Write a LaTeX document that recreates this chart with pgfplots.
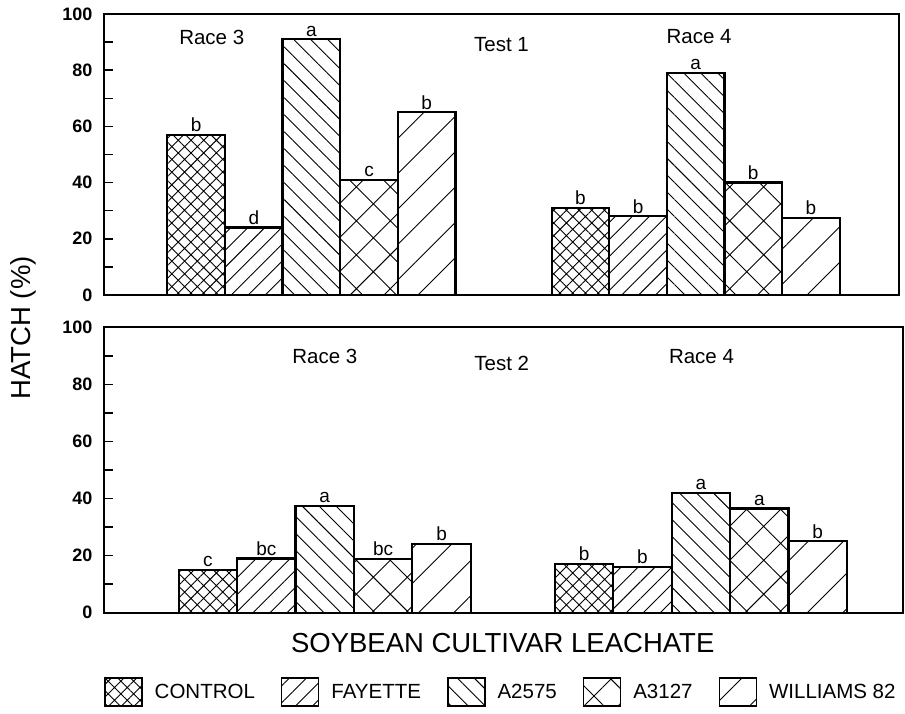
\documentclass[border=0pt]{standalone}
\usepackage{fontspec}
\setmainfont{Liberation Sans}
\usepackage{pgfplots}
\usepackage{pgfplotstable}
\pgfplotsset{compat=1.18}
\usetikzlibrary{patterns.meta}

\tikzset{
 pC/.style={pattern={Hatch[angle=45,distance=9pt,line width=0.9pt]}},
 pF/.style={pattern={Lines[angle=45,distance=12pt,line width=0.9pt]}},
 pA/.style={pattern={Lines[angle=-45,distance=12pt,line width=0.9pt]}},
 pB/.style={pattern={Hatch[angle=45,distance=24pt,line width=0.9pt]}},
 pW/.style={pattern={Lines[angle=45,distance=25pt,line width=0.9pt]}},
}

% Test 1
\pgfplotstableread{
x y lab
1.6 57 b
8.27 31 b
}\tAC
\pgfplotstableread{
x y lab
2.6 24 d
9.27 28 b
}\tAF
\pgfplotstableread{
x y lab
3.6 91 a
10.27 79 a
}\tAA
\pgfplotstableread{
x y lab
4.6 41 c
11.27 40 b
}\tAB
\pgfplotstableread{
x y lab
5.6 65 b
12.27 27.5 b
}\tAW
% Test 2
\pgfplotstableread{
x y lab
1.78 15 c
8.22 17 b
}\tBC
\pgfplotstableread{
x y lab
2.78 19 bc
9.22 16 b
}\tBF
\pgfplotstableread{
x y lab
3.78 37.5 a
10.22 42 a
}\tBA
\pgfplotstableread{
x y lab
4.78 18.8 bc
11.22 36.5 a
}\tBB
\pgfplotstableread{
x y lab
5.78 24 b
12.22 25 b
}\tBW

\pgfplotsset{
 panel/.style={
  scale only axis, ybar, bar shift=0pt, bar width=1,
  ymin=0, ymax=100, xmin=0,
  enlargelimits=false, xtick=\empty,
  ytick={0,20,...,100}, minor ytick={10,30,...,90},
  tick align=inside, ytick pos=left,
  major tick length=9pt, minor tick length=9pt,
  tick style={line width=1.5pt, black},
  axis line style={line width=2pt},
  yticklabel style={font=\bfseries\fontsize{18}{18}\selectfont, xshift=-8pt},
  /pgf/number format/assume math mode=true,
  every axis plot/.append style={draw=black, line width=2.2pt},
  nodes near coords, point meta=explicit symbolic,
  nodes near coords style={font=\fontsize{19}{19}\selectfont, anchor=south, inner sep=1pt, yshift=1pt},
  legend image code/.code={\draw[#1, line width=1.5pt] (0pt,-14pt) rectangle (37pt,14pt);},
 }
}

\begin{document}
\begin{tikzpicture}
\useasboundingbox (0,0) rectangle (905pt,713pt);
% Top panel
\begin{axis}[panel, at={(104pt,418pt)}, anchor=south west,
  width=795pt, height=281pt, xmax=13.80,
  ylabel={HATCH (\%)},
  ylabel style={font=\fontsize{27.5}{28}\selectfont, at={(axis description cs:-0.102,-0.117)}, anchor=center}]
\addplot[pC] table[x=x,y=y,meta=lab] {\tAC};
\addplot[pF] table[x=x,y=y,meta=lab] {\tAF};
\addplot[pA] table[x=x,y=y,meta=lab] {\tAA};
\addplot[pB] table[x=x,y=y,meta=lab] {\tAB};
\addplot[pW] table[x=x,y=y,meta=lab] {\tAW};
\node[font=\fontsize{20.5}{21}\selectfont] at (axis cs:1.87,91.8) {Race 3};
\node[font=\fontsize{20.5}{21}\selectfont] at (axis cs:6.90,89.3) {Test 1};
\node[font=\fontsize{20.5}{21}\selectfont] at (axis cs:10.33,91.8) {Race 4};
\end{axis}
% Bottom panel
\begin{axis}[panel, at={(104pt,100.3pt)}, anchor=south west,
  width=799pt, height=285.4pt, xmax=13.68,
  xlabel={SOYBEAN CULTIVAR LEACHATE},
  xlabel style={font=\fontsize{27.5}{28}\selectfont, at={(axis description cs:0.499,-0.106)}, anchor=center},
  legend columns=5,
  legend style={at={(0,-0.278)}, anchor=west, draw=none, inner sep=0pt,
    font=\fontsize{20.5}{21}\selectfont, cells={anchor=west},
    /tikz/every odd column/.append style={column sep=10pt},
    /tikz/every even column/.append style={column sep=24pt}}]
\addplot[pC] table[x=x,y=y,meta=lab] {\tBC};
\addplot[pF] table[x=x,y=y,meta=lab] {\tBF};
\addplot[pA] table[x=x,y=y,meta=lab] {\tBA};
\addplot[pB] table[x=x,y=y,meta=lab] {\tBB};
\addplot[pW] table[x=x,y=y,meta=lab] {\tBW};
\legend{CONTROL, FAYETTE, A2575, A3127, WILLIAMS 82}
\node[font=\fontsize{20.5}{21}\selectfont] at (axis cs:3.78,89.7) {Race 3};
\node[font=\fontsize{20.5}{21}\selectfont] at (axis cs:6.81,87.2) {Test 2};
\node[font=\fontsize{20.5}{21}\selectfont] at (axis cs:10.23,89.7) {Race 4};
\end{axis}
\end{tikzpicture}
\end{document}
